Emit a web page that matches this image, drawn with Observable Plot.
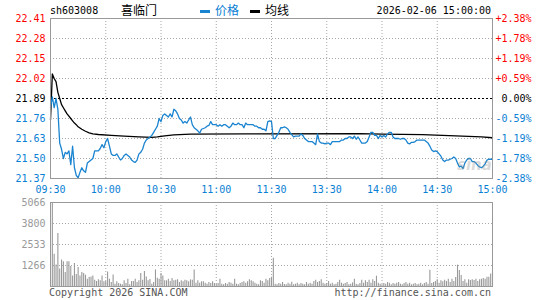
<!DOCTYPE html>
<html><head><meta charset="utf-8">
<script src="https://cdn.jsdelivr.net/npm/d3@7"></script>
<script src="https://cdn.jsdelivr.net/npm/@observablehq/plot@0.6"></script>
<style>
html,body{margin:0;padding:0;background:#fff;}
#wrap{position:relative;width:545px;height:300px;overflow:hidden;font-family:"DejaVu Sans Mono",monospace;font-size:10px;}
.abs{position:absolute;white-space:nowrap;line-height:1;}
.cjk{font-family:"Noto Sans CJK SC",sans-serif;font-size:12px;}
</style></head><body><div id="wrap"></div>
<script>
// ---- data ----
const symbol = "sh603008";
const stockName = "喜临门";
const legendPrice = "价格";
const legendAvg = "均线";
const dateTime = "2026-02-06 15:00:00";
const copyright = "Copyright 2026 SINA.COM";
const siteUrl = "http://finance.sina.com.cn";
const prevClose = 21.89;
const priceTicks = [22.41, 22.28, 22.15, 22.02, 21.89, 21.76, 21.63, 21.50, 21.37];
const pctLabels = ["+2.38%", "+1.78%", "+1.19%", "+0.59%", "0.00%", "-0.59%", "-1.19%", "-1.78%", "-2.38%"];
const timeTicks = [0, 30, 60, 90, 120, 150, 180, 210, 240];
const timeLabels = ["09:30", "10:00", "10:30", "11:00", "11:30", "13:30", "14:00", "14:30", "15:00"];
const volTicks = [5066, 3800, 2533, 1266];

// price per minute (index = minute of session, 0..240)
const price = [
  21.83, 21.90, 21.83, 21.89, 21.82, 21.60, 21.56, 21.50, 21.54, 21.53,
  21.55, 21.46, 21.58, 21.44, 21.39, 21.375, 21.41, 21.44, 21.42, 21.41,
  21.47, 21.48, 21.49, 21.50, 21.55, 21.55, 21.55, 21.565, 21.59, 21.57,
  21.61, 21.63, 21.58, 21.53, 21.52, 21.52, 21.53, 21.51, 21.49, 21.50,
  21.52, 21.53, 21.52, 21.51, 21.49, 21.48, 21.475, 21.49, 21.53, 21.54,
  21.56, 21.60, 21.62, 21.63, 21.64, 21.65, 21.67, 21.69, 21.71, 21.76,
  21.74, 21.78, 21.79, 21.78, 21.77, 21.79, 21.77, 21.82, 21.81, 21.79,
  21.76, 21.75, 21.73, 21.74, 21.73, 21.75, 21.77, 21.72, 21.70, 21.69,
  21.68, 21.665, 21.69, 21.695, 21.70, 21.71, 21.715, 21.74, 21.72, 21.72,
  21.72, 21.71, 21.72, 21.71, 21.72, 21.72, 21.71, 21.70, 21.71, 21.73,
  21.72, 21.72, 21.73, 21.72, 21.72, 21.70, 21.73, 21.72, 21.72, 21.72,
  21.72, 21.71, 21.71, 21.70, 21.70, 21.69, 21.69, 21.68, 21.74, 21.745,
  21.74,
  21.63, 21.63, 21.65, 21.67, 21.70, 21.70, 21.705, 21.70, 21.69, 21.67,
  21.655, 21.64, 21.645, 21.645, 21.645, 21.66, 21.65, 21.63, 21.62, 21.61,
  21.61, 21.61, 21.60, 21.59, 21.66, 21.61, 21.60, 21.60, 21.595, 21.60,
  21.60, 21.59, 21.61, 21.61, 21.61, 21.61, 21.61, 21.62, 21.62, 21.63,
  21.63, 21.64, 21.64, 21.63, 21.645, 21.625, 21.64, 21.62, 21.60, 21.60,
  21.60, 21.61, 21.64, 21.67, 21.67, 21.65, 21.65, 21.63, 21.65, 21.64,
  21.65, 21.64, 21.66, 21.67, 21.67, 21.64, 21.63, 21.63, 21.63, 21.625,
  21.63, 21.63, 21.62, 21.60, 21.595, 21.605, 21.605, 21.61, 21.62, 21.62,
  21.62, 21.62, 21.62, 21.61, 21.60, 21.58, 21.555, 21.545, 21.55, 21.545,
  21.53, 21.515, 21.49, 21.48, 21.49, 21.49, 21.495, 21.50, 21.51, 21.50,
  21.47, 21.445, 21.45, 21.435, 21.47, 21.49, 21.50, 21.50, 21.48, 21.48,
  21.47, 21.455, 21.445, 21.44, 21.45, 21.465, 21.49, 21.495, 21.495, 21.495
];

// average-price line, read at its turning points
const avgMinutes = [0, 1, 2, 3, 4, 5, 6, 7, 8, 9, 10, 11, 12, 13, 14, 15, 17, 19, 21, 23, 26, 33, 40, 48, 55, 58, 62, 67, 76, 106, 168, 180, 202, 220, 234, 240];
const avgValues = [21.75, 22.05, 22.02, 22.00, 21.93, 21.89, 21.85, 21.83, 21.81, 21.79, 21.775, 21.76, 21.745, 21.73, 21.72, 21.706, 21.69, 21.677, 21.667, 21.66, 21.656, 21.65, 21.645, 21.64, 21.637, 21.64, 21.647, 21.653, 21.658, 21.66, 21.662, 21.658, 21.655, 21.647, 21.64, 21.635];

// volume per minute
const volume = [
  400, 5066, 1950, 1300, 3200, 1050, 1600, 1490, 840, 1490,
  1490, 1200, 640, 1390, 720, 1150, 640, 840, 780, 680,
  440, 540, 580, 640, 380, 300, 400, 340, 640, 280,
  300, 880, 440, 240, 700, 140, 280, 180, 140, 100,
  340, 180, 440, 100, 300, 300, 440, 240, 340, 780,
  380, 900, 580, 340, 420, 140, 240, 1000, 500, 440,
  780, 640, 340, 340, 440, 300, 480, 340, 380, 400,
  240, 340, 280, 380, 340, 280, 400, 380, 1000, 200,
  340, 200, 280, 280, 200, 140, 240, 180, 280, 180,
  140, 180, 440, 140, 100, 180, 140, 240, 200, 140,
  440, 140, 100, 180, 240, 280, 200, 280, 400, 340,
  280, 200, 140, 100, 340, 300, 200, 440, 340, 480,
  560,
  1710, 140, 100, 180, 140, 240, 120, 100, 200, 140,
  260, 100, 140, 200, 100, 180, 140, 100, 240, 140,
  200, 140, 300, 380, 240, 300, 400, 200, 140, 180,
  300, 140, 200, 100, 140, 240, 380, 200, 140, 180,
  240, 100, 140, 220, 440, 140, 100, 180, 380, 200,
  340, 240, 380, 200, 400, 300, 620, 200, 140, 100,
  180, 140, 240, 200, 100, 180, 140, 200, 240, 140,
  100, 180, 240, 140, 200, 100, 140, 180, 100, 140,
  200, 100, 180, 240, 140, 980, 180, 240, 300, 400,
  200, 340, 280, 380, 300, 440, 240, 440, 300, 540,
  1290, 970, 660, 300, 400, 200, 400, 360, 400, 360,
  440, 300, 400, 440, 480, 440, 560, 560, 760, 880
];

// ---- styling ----
const BLUE_LINE = "#1a84d0";
const BLUE_TXT = "#0a80d4";
const RED = "#ff0000";
const GRID = "#a8a8a8";
const FRAME = "#999999";
const VOLC = "#999999";
const FONT = '"DejaVu Sans Mono", monospace';

const priceData = price.map((p, i) => ({m: i, p}));
const avgData = avgMinutes.map((m, i) => ({m, p: avgValues[i]}));
const volData = volume.map((v, i) => ({m: i, v}));
const innerPriceGrid = priceTicks.filter((v, i) => i > 0 && i < priceTicks.length - 1 && v !== prevClose);
const innerTimeGrid = timeTicks.slice(1, -1);
const up = priceTicks.filter(v => v > prevClose);
const flat = priceTicks.filter(v => v === prevClose);
const down = priceTicks.filter(v => v < prevClose);
const pct = d => pctLabels[priceTicks.indexOf(d)];
const fix = d => d.toFixed(2);

const common = {width: 545, marginLeft: 50, marginRight: 53,
  style: {fontFamily: FONT, fontSize: "10px", background: "transparent", overflow: "visible"}};

const pricePlot = Plot.plot({
  ...common,
  height: 196, marginTop: 18, marginBottom: 18,
  x: {domain: [0, 240]},
  y: {domain: [21.37, 22.41]},
  marks: [
    Plot.gridY(innerPriceGrid, {stroke: GRID, strokeOpacity: 1, strokeDasharray: "1,2"}),
    Plot.gridX(innerTimeGrid, {stroke: GRID, strokeOpacity: 1, strokeDasharray: "1,2"}),
    Plot.ruleY([prevClose], {stroke: "#000", strokeDasharray: "2,2"}),
    Plot.line(avgData, {x: "m", y: "p", stroke: "#000", strokeWidth: 1.3}),
    Plot.line(priceData, {x: "m", y: "p", stroke: BLUE_LINE, strokeWidth: 1.3}),
    Plot.frame({stroke: FRAME}),
    Plot.axisY(up, {anchor: "left", tickSize: 0, tickPadding: 5, tickFormat: fix, color: RED, label: null}),
    Plot.axisY(flat, {anchor: "left", tickSize: 0, tickPadding: 5, tickFormat: fix, color: "#000", label: null}),
    Plot.axisY(down, {anchor: "left", tickSize: 0, tickPadding: 5, tickFormat: fix, color: BLUE_TXT, label: null}),
    Plot.axisY(up, {anchor: "right", tickSize: 0, tickPadding: 3, tickFormat: pct, color: RED, label: null}),
    Plot.axisY(flat, {anchor: "right", tickSize: 0, tickPadding: 9, tickFormat: pct, color: "#000", label: null}),
    Plot.axisY(down, {anchor: "right", tickSize: 0, tickPadding: 3, tickFormat: pct, color: BLUE_TXT, label: null}),
    Plot.axisX(timeTicks, {anchor: "bottom", tickSize: 0, tickPadding: 7, tickFormat: d => timeLabels[timeTicks.indexOf(d)], color: BLUE_TXT, label: null})
  ]
});

const volPlot = Plot.plot({
  ...common,
  height: 104, marginTop: 6, marginBottom: 14,
  x: {domain: [0, 240], axis: null},
  y: {domain: [0, 5066]},
  marks: [
    Plot.gridY(volTicks.slice(1), {stroke: GRID, strokeOpacity: 1, strokeDasharray: "1,2"}),
    Plot.gridX(innerTimeGrid, {stroke: GRID, strokeOpacity: 1, strokeDasharray: "1,2"}),
    Plot.ruleX(volData, {x: "m", y1: 0, y2: "v", stroke: VOLC, strokeWidth: 1.1}),
    Plot.frame({stroke: FRAME}),
    Plot.axisY(volTicks, {anchor: "left", tickSize: 0, tickPadding: 5, tickFormat: d => String(d), color: "#999", label: null})
  ]
});

// ---- layout ----
const wrap = document.getElementById("wrap");
function place(el, top) {
  const d = document.createElement("div");
  d.style.position = "absolute"; d.style.left = "0px"; d.style.top = top + "px";
  d.appendChild(el); wrap.appendChild(d);
}
place(pricePlot, 0);
place(volPlot, 196);

function span(text, css, cls) {
  const s = document.createElement("span");
  s.className = "abs" + (cls ? " " + cls : "");
  s.textContent = text;
  Object.assign(s.style, css);
  wrap.appendChild(s);
  return s;
}
function box(css) {
  const b = document.createElement("div");
  b.style.position = "absolute";
  Object.assign(b.style, css);
  wrap.appendChild(b);
}
span(symbol, {left: "50px", top: "6px", color: "#000"});
span(stockName, {left: "121px", top: "4px", color: "#000"}, "cjk");
box({left: "200px", top: "10px", width: "10px", height: "3px", background: BLUE_LINE});
span(legendPrice, {left: "215px", top: "4px", color: BLUE_TXT}, "cjk");
box({left: "250px", top: "10px", width: "10px", height: "3px", background: "#000"});
span(legendAvg, {left: "265px", top: "4px", color: "#000"}, "cjk");
span(dateTime, {right: "54px", top: "6px", color: "#000"});
span(copyright, {left: "49px", top: "288px", color: "#555"});
span(siteUrl, {right: "54px", top: "288px", color: "#555"});
span("sina", {left: "457px", top: "158px", color: "rgba(150,150,150,0.35)", fontFamily: '"DejaVu Sans", sans-serif', fontStyle: "italic", fontWeight: "bold", fontSize: "15px"});
</script>
</body></html>
